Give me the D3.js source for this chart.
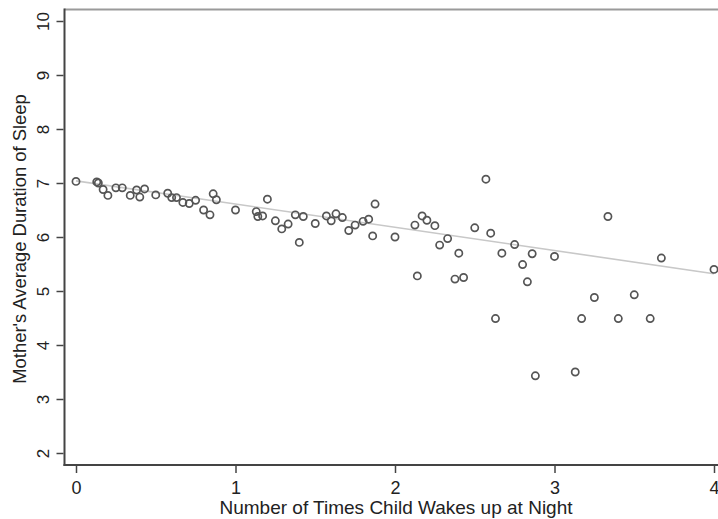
<!DOCTYPE html>
<html>
<head>
<meta charset="utf-8">
<script src="https://cdn.jsdelivr.net/npm/d3@7"></script>
<style>
  html, body { margin: 0; padding: 0; background: #fff; }
  svg text { font-family: "Liberation Sans", Arial, sans-serif; fill: #222; }
</style>
</head>
<body>
<div id="chart"></div>
<script>
// night wake-ups (x) and mother's sleep hours (y)
const wakeUps = [
  0.00, 0.13, 0.14, 0.17, 0.20, 0.25, 0.29, 0.34, 0.38, 0.40,
  0.43, 0.50, 0.575, 0.60, 0.63, 0.67, 0.71, 0.75, 0.80, 0.84,
  0.86, 0.88, 1.00, 1.13, 1.14, 1.17, 1.20, 1.25, 1.29, 1.33,
  1.375, 1.40, 1.425, 1.50, 1.57, 1.60, 1.63, 1.67, 1.71, 1.75,
  1.80, 1.835, 1.86, 1.875, 2.00, 2.125, 2.14, 2.17, 2.20, 2.25,
  2.28, 2.33, 2.376, 2.40, 2.43, 2.50, 2.57, 2.60, 2.63, 2.67,
  2.75, 2.80, 2.83, 2.86, 2.88, 3.00, 3.13, 3.17, 3.25, 3.335,
  3.40, 3.50, 3.60, 3.67, 4.00
]
const sleepHours = [
  7.03, 7.02, 7.00, 6.88, 6.77, 6.91, 6.91, 6.77, 6.87, 6.74,
  6.89, 6.78, 6.81, 6.73, 6.73, 6.64, 6.62, 6.68, 6.50, 6.41,
  6.80, 6.69, 6.50, 6.47, 6.38, 6.39, 6.70, 6.30, 6.15, 6.24,
  6.41, 5.90, 6.38, 6.25, 6.39, 6.30, 6.43, 6.36, 6.12, 6.22,
  6.29, 6.33, 6.02, 6.61, 6.00, 6.22, 5.28, 6.39, 6.31, 6.21,
  5.85, 5.97, 5.22, 5.70, 5.25, 6.17, 7.07, 6.07, 4.49, 5.70,
  5.86, 5.49, 5.17, 5.69, 3.43, 5.64, 3.50, 4.49, 4.88, 6.38,
  4.49, 4.93, 4.49, 5.61, 5.40
]

// fitted line end points
const fitX = [0, 4]
const fitY = [7.04, 5.32]

const xTicks = [0, 1, 2, 3, 4]
const yTicks = [2, 3, 4, 5, 6, 7, 8, 9, 10]

const xTitle = 'Number of Times Child Wakes up at Night'
const yTitle = "Mother's Average Duration of Sleep"

const width = 718
const height = 519

const svg = d3.select('#chart')
  .append('svg')
  .attr('width', width)
  .attr('height', height)

const x = d3.scaleLinear().domain([0, 4]).range([76, 714])
const y = d3.scaleLinear().domain([2, 10]).range([453, 21])

// 外框
const frameLeft = 64.5
const frameTop = 9.5
const frameBottom = 465
svg.append('line')
  .attr('x1', frameLeft).attr('x2', width)
  .attr('y1', frameTop).attr('y2', frameTop)
  .attr('stroke', '#9a9a9a').attr('stroke-width', 2)

svg.append('line')
  .attr('x1', frameLeft).attr('x2', frameLeft)
  .attr('y1', frameTop - 1).attr('y2', frameBottom + 1)
  .attr('stroke', '#444').attr('stroke-width', 2)

svg.append('line')
  .attr('x1', frameLeft - 1).attr('x2', width)
  .attr('y1', frameBottom).attr('y2', frameBottom)
  .attr('stroke', '#444').attr('stroke-width', 2)

// y axis, labels turned on their side
const yAxis = svg.append('g')
  .attr('transform', `translate(${frameLeft - 1},0)`)
  .call(d3.axisLeft(y).tickValues(yTicks).tickFormat(d3.format('d')).tickSize(7))
yAxis.select('.domain').remove()
yAxis.selectAll('.tick line').attr('stroke', '#444').attr('stroke-width', 1.5)
yAxis.selectAll('.tick text')
  .attr('font-size', 17)
  .attr('fill', '#222')
  .attr('text-anchor', 'middle')
  .attr('x', 0)
  .attr('y', 0)
  .attr('dy', '0.35em')
  .attr('transform', 'translate(-20,0) rotate(-90)')

// x axis
const xAxis = svg.append('g')
  .attr('transform', `translate(0,${frameBottom + 1})`)
  .call(d3.axisBottom(x).tickValues(xTicks).tickFormat(d3.format('d')).tickSize(7).tickPadding(8))
xAxis.select('.domain').remove()
xAxis.selectAll('.tick line').attr('stroke', '#444').attr('stroke-width', 1.5)
xAxis.selectAll('.tick text')
  .attr('font-size', 18)
  .attr('fill', '#222')

// titles
svg.append('text')
  .attr('x', 396)
  .attr('y', 514)
  .attr('text-anchor', 'middle')
  .attr('font-size', 19)
  .text(xTitle)

svg.append('text')
  .attr('transform', 'translate(26,239) rotate(-90)')
  .attr('text-anchor', 'middle')
  .attr('font-size', 18.4)
  .text(yTitle)

// fitted line
svg.append('line')
  .attr('x1', x(fitX[0])).attr('y1', y(fitY[0]))
  .attr('x2', x(fitX[1])).attr('y2', y(fitY[1]))
  .attr('stroke', '#c8c8c8')
  .attr('stroke-width', 1.6)

// points
const points = wakeUps.map((w, i) => ({ w, s: sleepHours[i] }))
svg.append('g')
  .selectAll('circle')
  .data(points)
  .enter().append('circle')
  .attr('cx', d => x(d.w))
  .attr('cy', d => y(d.s))
  .attr('r', 3.6)
  .attr('fill', 'none')
  .attr('stroke', '#555')
  .attr('stroke-width', 1.7)
</script>
</body>
</html>
